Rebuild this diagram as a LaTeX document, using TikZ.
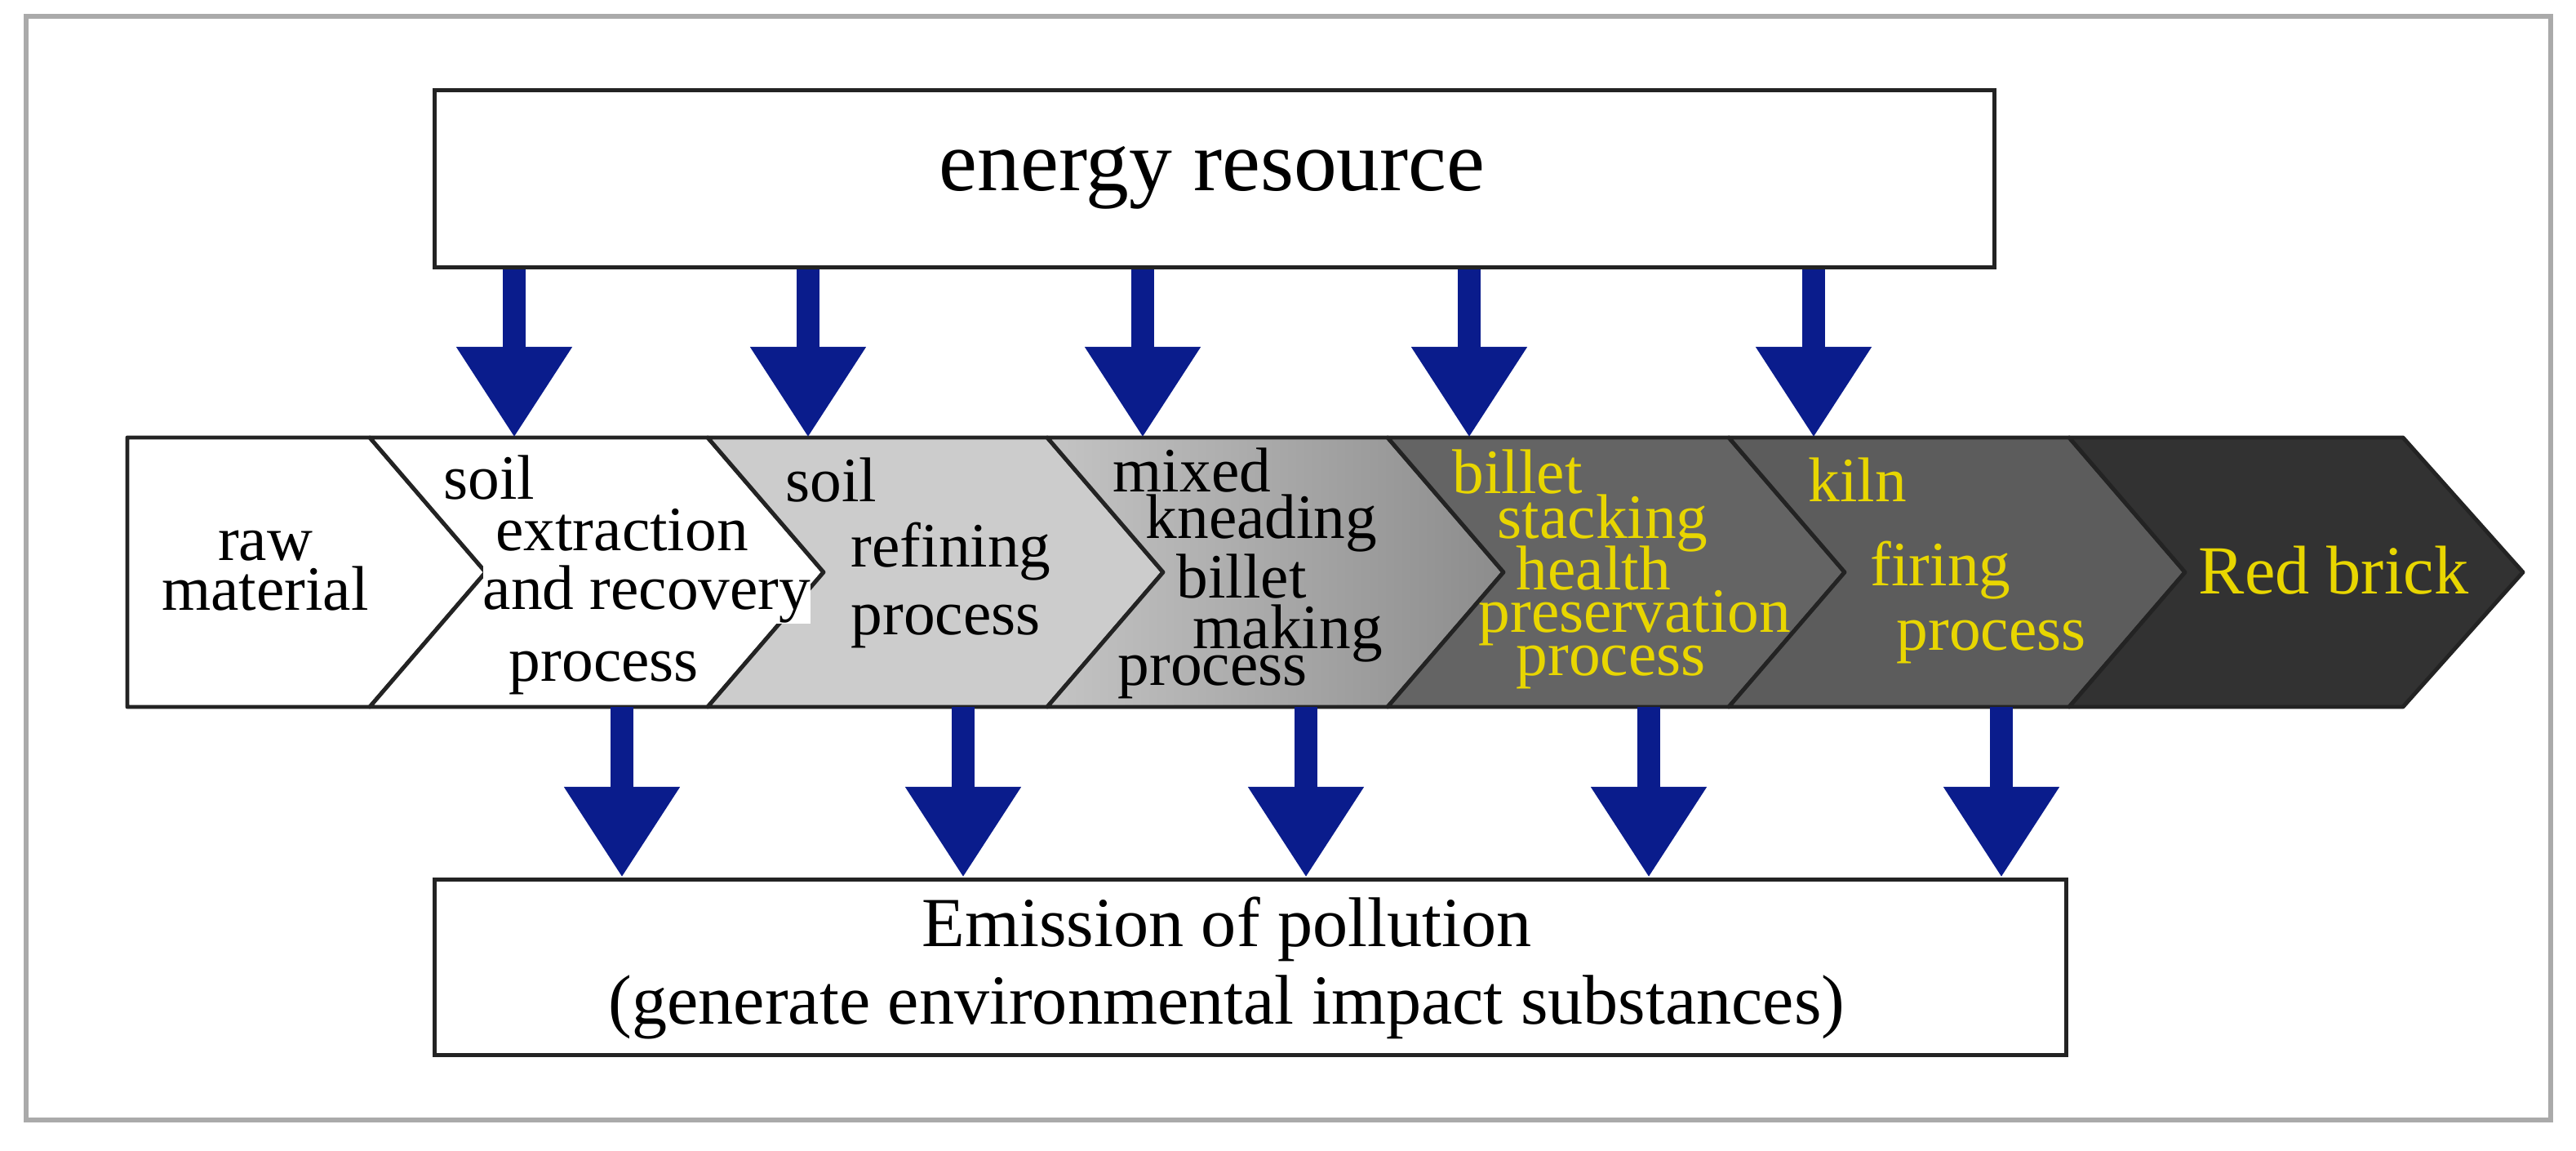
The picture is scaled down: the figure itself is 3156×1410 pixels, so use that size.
\documentclass[tikz,border=0pt]{standalone}
\usepackage{fontspec}
\setmainfont{Liberation Serif}
\usetikzlibrary{arrows.meta}
\definecolor{arrowblue}{RGB}{10,28,140}
\definecolor{ylw}{RGB}{232,214,0}
\definecolor{frame}{RGB}{170,170,170}
\definecolor{edge}{RGB}{35,35,35}
\begin{document}
\begin{tikzpicture}[x=0.01cm,y=-0.01cm,
  box/.style={draw=edge,line width=1.3pt,fill=white},
  seg/.style={draw=edge,line width=1.4pt,line join=round},
  blk/.style={draw=arrowblue,line width=0.28cm,-{Triangle[width=1.34cm,length=1.11cm]},shorten >=0pt},
  lbl/.style={font=\fontsize{22}{18}\selectfont,inner sep=0pt,anchor=base west},
  clbl/.style={lbl,anchor=base},
  ylbl/.style={lbl,text=ylw}]
\useasboundingbox (0,0) rectangle (3156,1410);
\fill[white] (0,0) rectangle (3156,1410);
\draw[frame,line width=1.5pt] (32,20) rectangle (3125,1372);
% boxes
\node[box,minimum width=19.1cm,minimum height=2.17cm,anchor=north west] (energy) at (530,108) {};
\node[font=\fontsize{30}{36}\selectfont,inner sep=0pt] (energyT) at (1485,218) {energy resource};
\node[box,minimum width=19.98cm,minimum height=2.15cm,anchor=north west] (emis) at (530,1075) {};
\node[font=\fontsize{24.5}{30}\selectfont,inner sep=0pt,anchor=base] (e1) at (1503,1160) {Emission of pollution};
\node[font=\fontsize{24.5}{30}\selectfont,inner sep=0pt,anchor=base] (e2) at (1503,1255) {(generate environmental impact substances)};
% band
\def\t{536}\def\b{866}\def\m{701}
\draw[seg,fill=white] (156,\t) -- (453,\t) -- (595,\m) -- (453,\b) -- (156,\b) -- cycle;
\draw[seg,fill=white] (453,\t) -- (867,\t) -- (1009,\m) -- (867,\b) -- (453,\b) -- (595,\m) -- cycle;
\draw[seg,fill={rgb,255:red,204;green,204;blue,204}] (867,\t) -- (1283,\t) -- (1425,\m) -- (1283,\b) -- (867,\b) -- (1009,\m) -- cycle;
\draw[seg,left color={rgb,255:red,196;green,196;blue,196},right color={rgb,255:red,140;green,140;blue,140}] (1283,\t) -- (1700,\t) -- (1842,\m) -- (1700,\b) -- (1283,\b) -- (1425,\m) -- cycle;
\draw[seg,fill={rgb,255:red,100;green,100;blue,100}] (1700,\t) -- (2118,\t) -- (2260,\m) -- (2118,\b) -- (1700,\b) -- (1842,\m) -- cycle;
\draw[seg,fill={rgb,255:red,92;green,92;blue,92}] (2118,\t) -- (2535,\t) -- (2677,\m) -- (2535,\b) -- (2118,\b) -- (2260,\m) -- cycle;
\draw[seg,fill={rgb,255:red,50;green,50;blue,50}] (2535,\t) -- (2944,\t) -- (3091,\m) -- (2944,\b) -- (2535,\b) -- (2677,\m) -- cycle;
\coordinate (bandtop) at (0,\t);
\coordinate (bandbot) at (0,\b);
% labels
\node[clbl] (r1) at (325,687) {raw};
\node[clbl] (r2) at (325,748) {material};
\node[lbl] (s1) at (543,612) {soil};
\node[clbl] (s2) at (762,675) {extraction};
\node[lbl,fill=white] (s3) at (591,747) {and recovery};
\node[clbl] (s4) at (740,835) {process};
\node[lbl] (f1) at (962,615) {soil};
\node[lbl] (f2) at (1042,695) {refining};
\node[lbl] (f3) at (1042,778) {process};
\node[lbl] (m1) at (1363,603) {mixed};
\node[lbl] (m2) at (1403,660) {kneading};
\node[lbl] (m3) at (1441,733) {billet};
\node[lbl] (m4) at (1461,795) {making};
\node[lbl] (m5) at (1369,840) {process};
\node[ylbl] (b1) at (1779,605) {billet};
\node[ylbl] (b2) at (1834,660) {stacking};
\node[ylbl] (b3) at (1857,723) {health};
\node[ylbl] (b4) at (1811,775) {preservation};
\node[ylbl] (b5) at (1857,828) {process};
\node[ylbl] (k1) at (2215,615) {kiln};
\node[ylbl] (k2) at (2291,718) {firing};
\node[ylbl] (k3) at (2323,797) {process};
\node[ylbl,font=\fontsize{24}{28}\selectfont] (rb) at (2693,728) {Red brick};
% arrows
\foreach \x in {630,990,1400,1800,2222}{
  \coordinate (tx) at (\x,0);
  \draw[blk] (energy.south -| tx) -- (bandtop -| tx);
}
\foreach \x in {762,1180,1600,2020,2452}{
  \coordinate (bx) at (\x,0);
  \draw[blk] (bandbot -| bx) -- (emis.north -| bx);
}
\end{tikzpicture}
\end{document}
